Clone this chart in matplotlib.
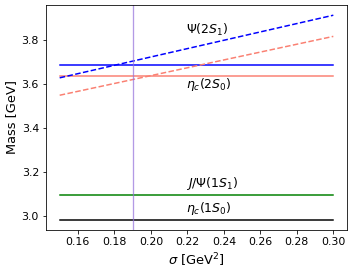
import numpy as np
from matplotlib import pyplot as plt

# measured masses [GeV]
states = ["eta_c(1S)", "J/Psi(1S)", "eta_c(2S)", "Psi(2S)"]
m_exp = [2.984, 3.097, 3.637, 3.686]
colors = ["black", "green", "salmon", "blue"]

# model prediction vs string tension
sigma = [0.15, 0.30]
m_psi2s = [3.628, 3.912]
m_etac2s = [3.549, 3.816]
sigma_fit = 0.19

labels = [r"$\eta_c(1S_0)$", r"$J/\Psi(1S_1)$", r"$\eta_c(2S_0)$", r"$\Psi(2S_1)$"]
label_x = 0.219
label_y = [3.033, 3.149, 3.597, 3.843]

fig = plt.figure(figsize=(354/72, 272/72), dpi=72)
ax = fig.add_axes([46/354, 42/272, 301/354, 225/272])

for m, c in zip(m_exp, colors):
    ax.plot([sigma[0], sigma[-1]], [m, m], color=c, lw=1.5)
ax.plot(sigma, m_psi2s, "--", color="blue", lw=1.5)
ax.plot(sigma, m_etac2s, "--", color="salmon", lw=1.5)
ax.axvline(sigma_fit, color="mediumpurple", lw=1.3, alpha=0.7)

for lab, y in zip(labels, label_y):
    ax.text(label_x, y, lab, fontsize=12.5, va="center", ha="left")

ax.set_xticks(np.arange(0.16, 0.301, 0.02))
ax.set_yticks([3.0, 3.2, 3.4, 3.6, 3.8])
ax.tick_params(labelsize=11)
ax.set_xlabel(r"$\sigma$ [GeV$^2$]", fontsize=13)
ax.set_ylabel("Mass [GeV]", fontsize=13)
plt.savefig("out.png", dpi=72)
